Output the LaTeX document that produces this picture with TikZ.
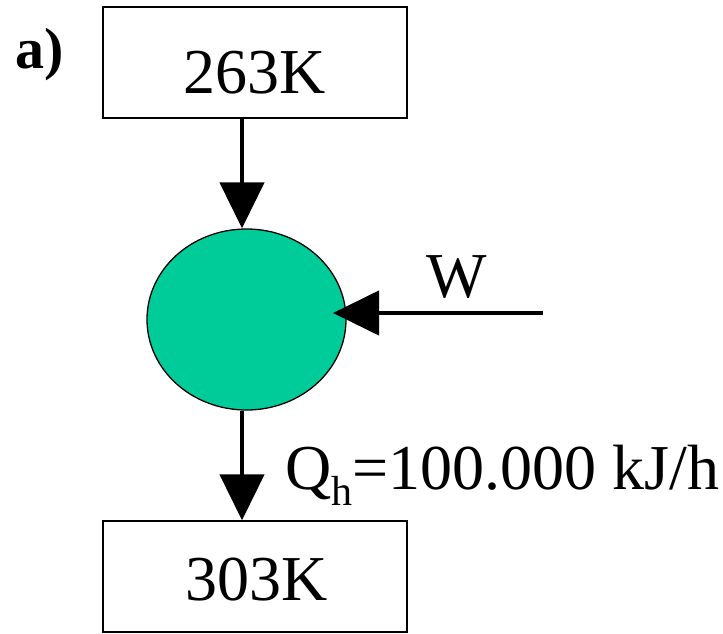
\documentclass[tikz,border=0pt]{standalone}
\usepackage{fontspec}
\setmainfont{Liberation Serif}
\usetikzlibrary{arrows.meta,shapes.geometric}
\definecolor{engine}{RGB}{0,204,153}
\tikzset{
  resbox/.style={draw=black, line width=1.3pt, fill=white, minimum width=304pt, minimum height=111pt, inner sep=0pt},
  engine/.style={ellipse, draw=black, line width=1.3pt, fill=engine, minimum width=199pt, minimum height=181pt, inner sep=0pt},
  flow/.style={line width=4.5pt, -{Triangle[width=44pt,length=46pt]}},
  bigtxt/.style={font=\fontsize{64}{64}\selectfont, inner sep=0pt},
}
\begin{document}
\begin{tikzpicture}[x=1pt,y=-1pt]
\useasboundingbox (0,0) rectangle (723,633);
% label
\node[anchor=base west, inner sep=0pt, font=\fontsize{58}{58}\selectfont\bfseries] (lab) at (15,68) {a)};
% boxes
\node[resbox] (hot0) at (255,62.5) {};
\node[bigtxt, anchor=base] (t1) at (254.5,93) {263K};
\node[resbox] (cold) at (255,576.5) {};
\node[bigtxt, anchor=base] (t2) at (256.5,600) {303K};
% engine
\node[engine] (ell) at (246.5,319.5) {};
% helper coordinates
\coordinate (ax) at (242,0);
\coordinate (wstart) at (543,313);
\coordinate (wtip) at (333,313);
% arrows
\draw[flow] (hot0.south -| ax) -- (ell.north -| ax);
\draw[flow] (ell.south -| ax) -- (cold.north -| ax);
\draw[flow] (wstart) -- (wtip);
% labels
\node[bigtxt, anchor=base] (w) at (456.5,297) {W};
\node[bigtxt, anchor=base west] (q) at (285,489) {Q\raisebox{-16pt}{\fontsize{42}{42}\selectfont h}=100.000 kJ/h};
\end{tikzpicture}
\end{document}
